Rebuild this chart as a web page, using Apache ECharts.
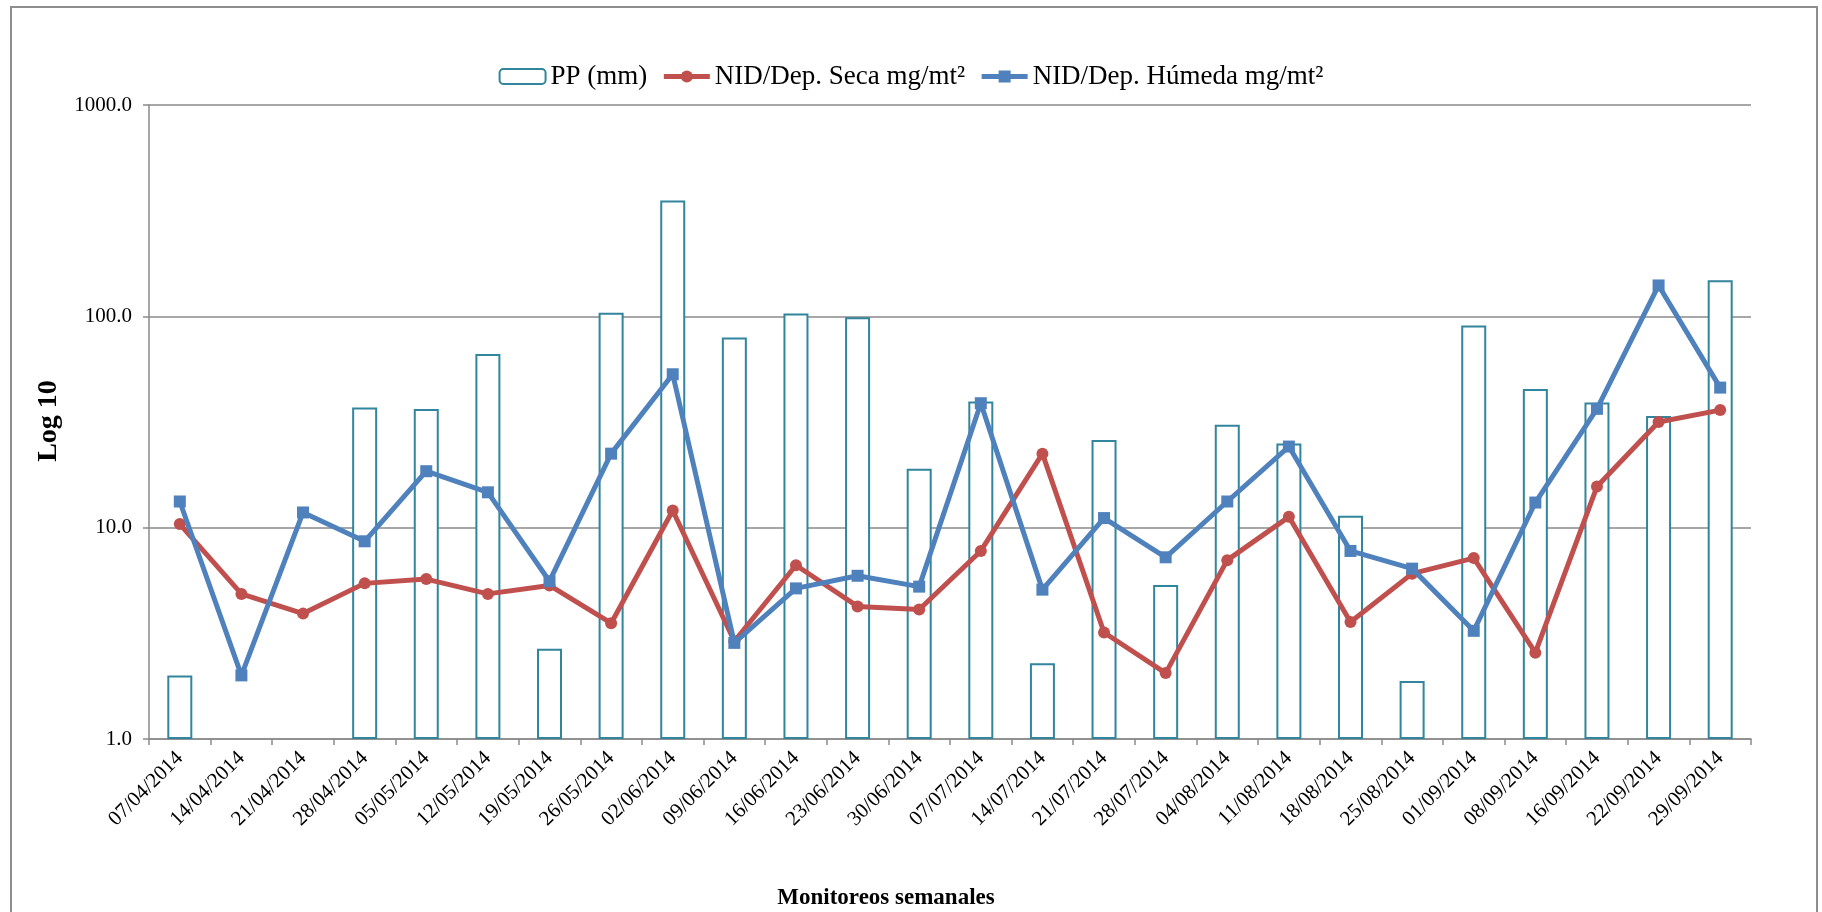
<!DOCTYPE html>
<html>
<head>
<meta charset="utf-8">
<script src="https://cdn.jsdelivr.net/npm/echarts@6/dist/echarts.min.js"></script>
<style>
html,body{margin:0;padding:0;background:#fff;}
#chart{width:1822px;height:912px;}
</style>
</head>
<body>
<div id="chart"></div>
<script>
const categories = ['07/04/2014','14/04/2014','21/04/2014','28/04/2014','05/05/2014','12/05/2014','19/05/2014','26/05/2014','02/06/2014','09/06/2014','16/06/2014','23/06/2014','30/06/2014','07/07/2014','14/07/2014','21/07/2014','28/07/2014','04/08/2014','11/08/2014','18/08/2014','25/08/2014','01/09/2014','08/09/2014','16/09/2014','22/09/2014','29/09/2014'];
const ppValues = [2.0, null, null, 37.0, 36.4, 66.3, 2.67, 104, 353, 79.3, 103, 98.9, 19.0, 39.5, 2.28, 26.0, 5.35, 30.7, 25.0, 11.4, 1.88, 90.6, 45.3, 39.1, 33.8, 148];
const secaValues = [10.4, 4.86, 3.92, 5.45, 5.71, 4.86, 5.33, 3.53, 12.05, 2.9, 6.64, 4.24, 4.10, 7.76, 22.4, 3.19, 2.05, 7.02, 11.25, 3.58, 6.06, 7.18, 2.56, 15.65, 31.6, 36.0];
const humedaValues = [13.3, 2.0, 11.8, 8.62, 18.5, 14.7, 5.58, 22.4, 53.2, 2.85, 5.16, 5.92, 5.26, 38.8, 5.09, 11.1, 7.24, 13.3, 24.2, 7.76, 6.40, 3.25, 13.15, 36.5, 140, 46.0];
const seriesNames = ['PP (mm)', 'NID/Dep. Seca mg/mt²', 'NID/Dep. Húmeda mg/mt²'];
const yTickLabels = ['1.0', '10.0', '100.0', '1000.0'];
const xAxisTitle = 'Monitoreos semanales';
const yAxisTitle = 'Log 10';

const FONT = '"Liberation Serif", "Times New Roman", serif';
const GRAY = '#8a8a8a';

const chart = echarts.init(document.getElementById('chart'), null, {renderer: 'canvas'});
chart.setOption({
  animation: false,
  backgroundColor: '#fff',
  textStyle: {fontFamily: FONT},
  legend: {
    data: seriesNames,
    left: 'center',
    top: 58,
    itemWidth: 46,
    itemHeight: 15,
    itemGap: 14,
    lineStyle: {width: 5},
    textStyle: {fontFamily: FONT, fontSize: 27, color: '#000'}
  },
  grid: {left: 149, right: 71, top: 105, bottom: 173, containLabel: false},
  xAxis: {
    type: 'category',
    data: categories,
    boundaryGap: true,
    axisLine: {lineStyle: {color: GRAY, width: 1.5}},
    axisTick: {show: true, alignWithLabel: false, length: 6, lineStyle: {color: GRAY, width: 1.5}},
    axisLabel: {rotate: 45, interval: 0, margin: 16, fontFamily: FONT, fontSize: 21, color: '#000'}
  },
  yAxis: {
    type: 'log',
    logBase: 10,
    min: 1,
    max: 1000,
    axisLine: {show: true, lineStyle: {color: GRAY, width: 1.5}},
    axisTick: {show: true, length: 6, lineStyle: {color: GRAY, width: 1.5}},
    minorTick: {show: false},
    splitLine: {show: true, lineStyle: {color: GRAY, width: 1.5}},
    axisLabel: {
      margin: 17, fontFamily: FONT, fontSize: 21, color: '#000',
      formatter: function (v) {
        const i = Math.round(Math.log10(v));
        return yTickLabels[i] !== undefined ? yTickLabels[i] : v.toFixed(1);
      }
    }
  },
  series: [
    {
      name: seriesNames[0],
      type: 'bar',
      data: ppValues,
      barWidth: 25,
      itemStyle: {color: '#ffffff', borderColor: '#31859C', borderWidth: 2}
    },
    {
      name: seriesNames[1],
      type: 'line',
      data: secaValues,
      symbol: 'circle',
      symbolSize: 12,
      lineStyle: {color: '#C0504D', width: 5},
      itemStyle: {color: '#C0504D'},
      z: 3
    },
    {
      name: seriesNames[2],
      type: 'line',
      data: humedaValues,
      symbol: 'rect',
      symbolSize: 12,
      lineStyle: {color: '#4F81BD', width: 5},
      itemStyle: {color: '#4F81BD'},
      z: 4
    }
  ],
  graphic: [
    {
      type: 'rect',
      shape: {x: 11, y: 7, width: 1806, height: 1000},
      style: {fill: 'none', stroke: '#8e8e8e', lineWidth: 2},
      silent: true,
      z: -10
    },
    {
      type: 'text',
      x: 886, y: 898,
      style: {text: xAxisTitle, font: 'bold 23px ' + FONT, fill: '#000', textAlign: 'center', textVerticalAlign: 'middle'}
    },
    {
      type: 'text',
      x: 49, y: 421,
      rotation: Math.PI / 2,
      style: {text: yAxisTitle, font: 'bold 28px ' + FONT, fill: '#000', textAlign: 'center', textVerticalAlign: 'middle'}
    }
  ]
});
</script>
</body>
</html>
